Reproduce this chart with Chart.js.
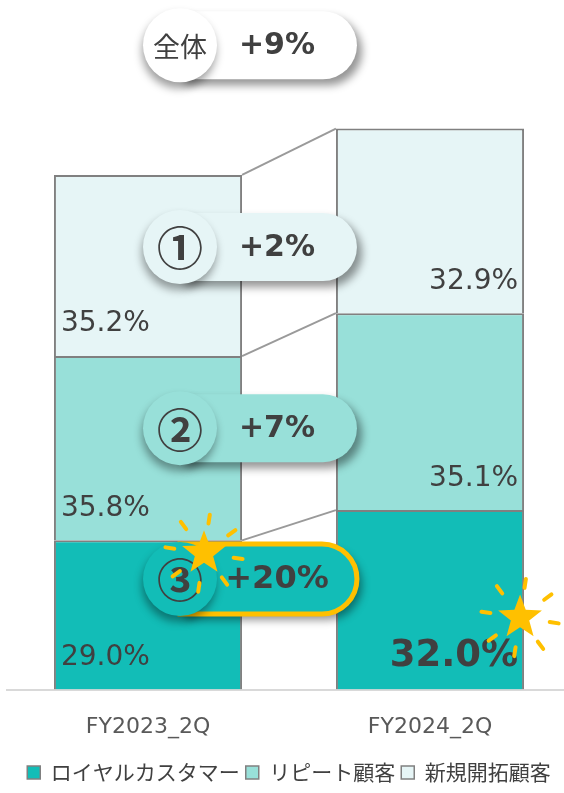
<!DOCTYPE html>
<html lang="ja">
<head>
<meta charset="UTF-8">
<title>顧客区分別 構成比</title>
<script src="https://cdn.jsdelivr.net/npm/chart.js"></script>
<style>
  html, body { margin: 0; padding: 0; background: #fff; overflow: hidden; }
  .wrap { width: 572px; height: 793px; }
</style>
</head>
<body>
<div class="wrap"><canvas id="mixChart" width="572" height="793"></canvas></div>
<script>
// data
const categories = ['FY2023_2Q', 'FY2024_2Q'];
const totals = [100, 109];              // FY2023 = 100
const royalShare = [29.0, 32.0];
const repeatShare = [35.8, 35.1];
const newShare = [35.2, 32.9];
const seriesNames = ['ロイヤルカスタマー', 'リピート顧客', '新規開拓顧客'];
const growthLabels = ['③', '②', '①'];
const growthValues = ['+20%', '+7%', '+2%'];
const totalLabel = '全体';
const totalGrowth = '+9%';

const colors = ['#12bdb7', '#98e0d9', '#e6f5f6'];
const bubbleFill = ['#12bdb7', '#98e0d9', '#e6f5f6'];
const bubbleAt = [21.5, 50.8, 86.0];   // y (in value units) of each bubble
const totalBubbleAt = 125.2;

const NUM_FONT = '"DejaVu Sans", Verdana, sans-serif';
const JP_FONT = '"Noto Sans CJK JP", "Noto Sans", sans-serif';
const TEXT = '#404040';

function toValues(share) {
    return share.map((s, i) => s * totals[i] / 100);
}
const shares = [royalShare, repeatShare, newShare];

function pillPath(ctx, x0, x1, cy, h) {
    const r = h / 2;
    ctx.beginPath();
    ctx.moveTo(x0, cy - r);
    ctx.lineTo(x1 - r, cy - r);
    ctx.arc(x1 - r, cy, r, -Math.PI / 2, Math.PI / 2);
    ctx.lineTo(x0, cy + r);
    ctx.closePath();
}

function starPath(ctx, cx, cy, R, r) {
    ctx.beginPath();
    for (let k = 0; k < 10; k++) {
        const a = -Math.PI / 2 + k * Math.PI / 5;
        const rad = k % 2 === 0 ? R : r;
        const px = cx + rad * Math.cos(a), py = cy + rad * Math.sin(a);
        k === 0 ? ctx.moveTo(px, py) : ctx.lineTo(px, py);
    }
    ctx.closePath();
}

function drawStar(ctx, cx, cy, R) {
    ctx.save();
    ctx.strokeStyle = '#ffc000';
    ctx.lineWidth = 4;
    ctx.lineCap = 'round';
    for (let k = 0; k < 8; k++) {
        const a = -Math.PI / 2 + k * Math.PI / 4 + 0.15;
        ctx.beginPath();
        ctx.moveTo(cx + (R + 7) * Math.cos(a), cy + (R + 7) * Math.sin(a));
        ctx.lineTo(cx + (R + 16) * Math.cos(a), cy + (R + 16) * Math.sin(a));
        ctx.stroke();
    }
    ctx.fillStyle = '#ffc000';
    starPath(ctx, cx, cy, R, R * 0.42);
    ctx.fill();
    ctx.restore();
}

function bubble(ctx, cx, cy, pillRight, fill, circleText, circleFont, valueText, valueFont, outline) {
    const rad = 37;
    ctx.save();
    ctx.shadowColor = 'rgba(0,0,0,0.42)';
    ctx.shadowBlur = 9;
    ctx.shadowOffsetX = 5;
    ctx.shadowOffsetY = 6;
    pillPath(ctx, cx, pillRight, cy, outline ? 70 : 68);
    ctx.fillStyle = fill;
    ctx.fill();
    ctx.shadowColor = 'transparent';
    if (outline) {
        ctx.lineWidth = 5;
        ctx.strokeStyle = '#ffc000';
        ctx.stroke();
    }
    ctx.shadowColor = 'rgba(0,0,0,0.38)';
    ctx.shadowOffsetX = -1;
    ctx.shadowOffsetY = 6;
    ctx.beginPath();
    ctx.arc(cx, cy, rad, 0, Math.PI * 2);
    ctx.fill();
    ctx.restore();

    ctx.save();
    ctx.fillStyle = TEXT;
    ctx.textBaseline = 'middle';
    ctx.textAlign = 'center';
    ctx.font = circleFont;
    ctx.fillText(circleText, cx, cy + 1);
    ctx.font = valueFont;
    ctx.fillText(valueText, cx + 97, cy + 1);
    ctx.restore();
}

const overlayPlugin = {
    id: 'overlay',
    afterDatasetsDraw(chart) {
        const ctx = chart.ctx;
        const yScale = chart.scales.y;

        // connector lines between the segment tops
        ctx.save();
        ctx.strokeStyle = '#9a9a9a';
        ctx.lineWidth = 2;
        chart.data.datasets.forEach((ds, d) => {
            const bars = chart.getDatasetMeta(d).data;
            const a = bars[0], b = bars[1];
            ctx.beginPath();
            ctx.moveTo(a.x + a.width / 2, a.y);
            ctx.lineTo(b.x - b.width / 2, b.y);
            ctx.stroke();
        });
        ctx.restore();

        // percentage labels inside segments
        chart.data.datasets.forEach((ds, d) => {
            chart.getDatasetMeta(d).data.forEach((bar, i) => {
                const txt = shares[d][i].toFixed(1) + '%';
                ctx.save();
                ctx.fillStyle = TEXT;
                ctx.textBaseline = 'middle';
                if (i === 0) {
                    ctx.font = '28px ' + NUM_FONT;
                    ctx.textAlign = 'left';
                    ctx.fillText(txt, bar.x - bar.width / 2 + 7, bar.base - 32);
                } else {
                    const bold = d === 0;
                    ctx.font = bold ? 'bold 37px ' + NUM_FONT : '28px ' + NUM_FONT;
                    ctx.textAlign = 'right';
                    ctx.fillText(txt, bar.x + bar.width / 2 - 6, bar.base - (bold ? 33 : 31));
                }
                ctx.restore();
            });
        });

        // growth bubbles
        const first = chart.getDatasetMeta(0).data[0];
        const second = chart.getDatasetMeta(0).data[1];
        const cx = first.x + 32;
        const pillRight = second.x - second.width / 2 + 21;
        for (let d = 2; d >= 0; d--) {
            bubble(ctx, cx, yScale.getPixelForValue(bubbleAt[d]), pillRight, bubbleFill[d],
                growthLabels[d], 'bold 46px ' + JP_FONT, growthValues[d],
                (d === 0 ? 'bold 32px ' : 'bold 30px ') + NUM_FONT, d === 0);
        }
        bubble(ctx, cx, yScale.getPixelForValue(totalBubbleAt), pillRight, '#ffffff',
            totalLabel, '27px ' + JP_FONT, totalGrowth, 'bold 30px ' + NUM_FONT, false);

        // highlight stars
        drawStar(ctx, cx + 24, yScale.getPixelForValue(bubbleAt[0] + 5), 23);
        drawStar(ctx, second.x + second.width / 2 - 4, yScale.getPixelForValue(bubbleAt[0] - 7.5), 23);
    }
};

new Chart(document.getElementById('mixChart'), {
    type: 'bar',
    data: {
        labels: categories,
        datasets: seriesNames.map((name, d) => ({
            label: name,
            data: toValues(shares[d]),
            backgroundColor: colors[d],
            borderColor: '#808080',
            borderWidth: { top: 2, left: 2, right: 2, bottom: 0 },
            borderSkipped: false,
            categoryPercentage: 1,
            barPercentage: 0.667
        }))
    },
    options: {
        responsive: false,
        animation: false,
        layout: { padding: { top: 72, left: 7, right: 1, bottom: 0 } },
        scales: {
            x: {
                stacked: true,
                grid: { display: false },
                border: { color: '#d9d9d9', width: 2 },
                ticks: { color: '#595959', font: { family: NUM_FONT, size: 22 }, padding: 16 }
            },
            y: {
                stacked: true,
                display: false,
                min: 0,
                max: 120
            }
        },
        plugins: {
            legend: {
                position: 'bottom',
                labels: {
                    boxWidth: 13,
                    boxHeight: 13,
                    color: TEXT,
                    font: { family: JP_FONT, size: 21 },
                    padding: 6
                }
            },
            tooltip: { enabled: false }
        }
    },
    plugins: [overlayPlugin]
});
</script>
</body>
</html>
